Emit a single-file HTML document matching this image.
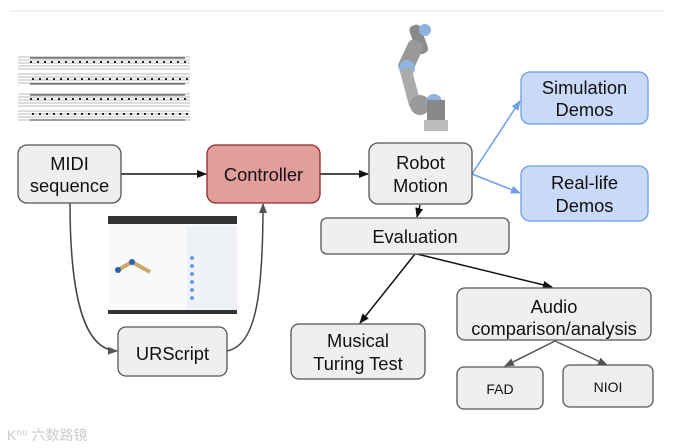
<!DOCTYPE html>
<html><head><meta charset="utf-8"><style>
html,body{margin:0;padding:0;background:#fff;}
svg{display:block;font-family:"Liberation Sans",Arial,sans-serif;}
</style></head><body>
<svg width="674" height="448" viewBox="0 0 674 448" xmlns="http://www.w3.org/2000/svg">
<defs>
<marker id="ak" markerWidth="10" markerHeight="8" refX="9" refY="4" orient="auto" markerUnits="userSpaceOnUse"><path d="M0,0 L10,4 L0,8 z" fill="#111"/></marker>
<marker id="ag" markerWidth="10" markerHeight="8" refX="9" refY="4" orient="auto" markerUnits="userSpaceOnUse"><path d="M0,0 L10,4 L0,8 z" fill="#555"/></marker>
<marker id="ab" markerWidth="10" markerHeight="8" refX="9" refY="4" orient="auto" markerUnits="userSpaceOnUse"><path d="M0,0 L10,4 L0,8 z" fill="#6d9eeb"/></marker>
</defs>
<line x1="10" y1="11" x2="664" y2="11" stroke="#e3e3e3" stroke-width="1"/>

<!-- sheet music -->
<g stroke="#777" stroke-width="0.6">
<g id="st">
<line x1="18" y1="57" x2="190" y2="57"/><line x1="18" y1="60" x2="190" y2="60"/><line x1="18" y1="63" x2="190" y2="63"/><line x1="18" y1="66" x2="190" y2="66"/><line x1="18" y1="69" x2="190" y2="69"/>
<line x1="18" y1="74" x2="190" y2="74"/><line x1="18" y1="77" x2="190" y2="77"/><line x1="18" y1="80" x2="190" y2="80"/><line x1="18" y1="83" x2="190" y2="83"/>
</g>
<use href="#st" transform="translate(0,37)"/>
</g>
<g stroke="#222" stroke-width="2" stroke-dasharray="2 5">
<line x1="30" y1="62" x2="190" y2="62"/><line x1="32" y1="79" x2="190" y2="79"/>
<line x1="30" y1="99" x2="190" y2="99"/><line x1="32" y1="114" x2="190" y2="114"/>
</g>
<g stroke="#333" stroke-width="1">
<line x1="30" y1="58" x2="185" y2="58"/><line x1="30" y1="84" x2="185" y2="84"/>
<line x1="30" y1="95" x2="185" y2="95"/><line x1="30" y1="120" x2="185" y2="120"/>
</g>

<!-- robot arm -->
<g>
<rect x="413" y="24" width="12" height="30" rx="5" fill="#8a8a8a" transform="rotate(-20 420 40)"/>
<circle cx="425" cy="30" r="6" fill="#8fb3e0"/>
<rect x="403" y="40" width="16" height="34" rx="6" fill="#999" transform="rotate(25 412 56)"/>
<circle cx="407" cy="68" r="8" fill="#8fb3e0"/>
<rect x="404" y="68" width="12" height="38" fill="#aaa" transform="rotate(-15 410 86)"/>
<circle cx="420" cy="105" r="10" fill="#9a9a9a"/>
<circle cx="434" cy="102" r="8" fill="#8fb3e0"/>
<rect x="427" y="100" width="18" height="22" fill="#888"/>
<rect x="424" y="120" width="24" height="11" fill="#bbb"/>
</g>

<!-- UR screenshot -->
<rect x="108" y="216" width="129" height="98" fill="#f7f9fb"/>
<rect x="108" y="216" width="129" height="8" fill="#333"/>
<rect x="108" y="310" width="129" height="4" fill="#333"/>
<rect x="187" y="226" width="50" height="84" fill="#eef2f6"/>
<g stroke="#c9a86a" stroke-width="4"><line x1="118" y1="270" x2="132" y2="262"/><line x1="132" y1="262" x2="150" y2="272"/></g>
<circle cx="118" cy="270" r="3" fill="#2b5fb0"/><circle cx="132" cy="262" r="3" fill="#2b5fb0"/>
<g fill="#6d9eeb"><circle cx="192" cy="258" r="2"/><circle cx="192" cy="266" r="2"/><circle cx="192" cy="274" r="2"/><circle cx="192" cy="282" r="2"/><circle cx="192" cy="290" r="2"/><circle cx="192" cy="298" r="2"/></g>

<!-- connectors -->
<g fill="none" stroke-width="1.5">
<line x1="121" y1="174" x2="206" y2="174" stroke="#111" marker-end="url(#ak)"/>
<line x1="320" y1="174" x2="368" y2="174" stroke="#111" marker-end="url(#ak)"/>
<line x1="420" y1="205" x2="417" y2="217" stroke="#111" marker-end="url(#ak)"/>
<line x1="472" y1="174" x2="520" y2="101" stroke="#6d9eeb" marker-end="url(#ab)"/>
<line x1="472" y1="174" x2="520" y2="193" stroke="#6d9eeb" marker-end="url(#ab)"/>
<line x1="415" y1="254" x2="360" y2="323" stroke="#111" marker-end="url(#ak)"/>
<line x1="417" y1="254" x2="552" y2="287" stroke="#111" marker-end="url(#ak)"/>
<line x1="555" y1="341" x2="505" y2="366" stroke="#555" marker-end="url(#ag)"/>
<line x1="555" y1="341" x2="607" y2="365" stroke="#555" marker-end="url(#ag)"/>
<path d="M70,203 C70,300 85,350 117,351" stroke="#444" marker-end="url(#ag)"/>
<path d="M227,351 C255,345 263,300 263,204" stroke="#444" marker-end="url(#ag)"/>
</g>

<!-- boxes -->
<g stroke-width="1.3">
<rect x="18" y="145" width="103" height="58" rx="9" fill="#efefef" stroke="#555"/>
<rect x="207" y="145" width="113" height="58" rx="9" fill="#e29d9d" stroke="#8e2a2a"/>
<rect x="369" y="143" width="103" height="61" rx="9" fill="#efefef" stroke="#555"/>
<rect x="521" y="72" width="127" height="52" rx="9" fill="#c9daf8" stroke="#6d9eeb"/>
<rect x="521" y="166" width="127" height="55" rx="9" fill="#c9daf8" stroke="#6d9eeb"/>
<rect x="321" y="218" width="188" height="36" rx="6" fill="#efefef" stroke="#555"/>
<rect x="457" y="288" width="194" height="52" rx="8" fill="#efefef" stroke="#555"/>
<rect x="291" y="324" width="134" height="55" rx="8" fill="#efefef" stroke="#555"/>
<rect x="457" y="367" width="86" height="42" rx="7" fill="#efefef" stroke="#555"/>
<rect x="563" y="365" width="90" height="42" rx="7" fill="#efefef" stroke="#555"/>
<rect x="118" y="327" width="109" height="49" rx="8" fill="#efefef" stroke="#555"/>
</g>

<g fill="#111" font-size="18.3" text-anchor="middle">
<text x="69.5" y="170">MIDI</text><text x="69.5" y="192">sequence</text>
<text x="263.5" y="181">Controller</text>
<text x="420.5" y="169">Robot</text><text x="420.5" y="192">Motion</text>
<text x="584.5" y="94">Simulation</text><text x="584.5" y="116">Demos</text>
<text x="584.5" y="189">Real-life</text><text x="584.5" y="212">Demos</text>
<text x="415" y="243">Evaluation</text>
<text x="554" y="313">Audio</text><text x="554" y="335">comparison/analysis</text>
<text x="358" y="347">Musical</text><text x="358" y="370">Turing Test</text>
<text x="172.5" y="360">URScript</text>
<text x="500" y="394" font-size="14">FAD</text>
<text x="608" y="392" font-size="14">NIOI</text>
</g>
<text x="7" y="440" font-size="14" fill="#ccc" font-family="'Liberation Sans','Noto Sans CJK SC',sans-serif">K⁰⁰ 六数路镜</text>
</svg>
</body></html>
